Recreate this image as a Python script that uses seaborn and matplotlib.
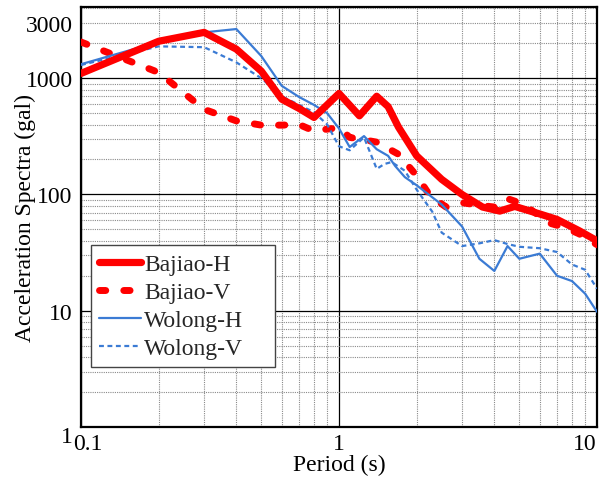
import matplotlib
matplotlib.use("Agg")
import matplotlib.pyplot as plt
import matplotlib.transforms as mtrans
from matplotlib.ticker import FixedLocator, LogLocator, FuncFormatter, NullFormatter
import seaborn as sns
import pandas as pd

# ---------------- data ----------------
bajiao_h_T = [0.1, 0.2, 0.3, 0.4, 0.5, 0.6, 0.7, 0.8, 1.0, 1.2, 1.4, 1.55, 1.7, 2.0,
              2.5, 3.0, 3.6, 4.2, 4.8, 6.0, 7.0, 8.5, 10.0]
bajiao_h_A = [1100, 2080, 2480, 1780, 1150, 660, 550, 460, 740, 475, 700, 570, 380, 215,
              135, 100, 78, 72, 79, 68, 61, 49, 40]

bajiao_v_T = [0.1, 0.2, 0.3, 0.4, 0.5, 0.6, 0.7, 0.8, 0.9, 1.0, 1.1, 1.25, 1.4, 1.7, 2.0,
              2.25, 2.6, 3.0, 3.6, 4.0, 4.5, 5.0, 5.5, 6.5, 7.5, 8.5, 10.0]
bajiao_v_A = [2050, 1120, 540, 430, 395, 395, 400, 352, 365, 375, 310, 295, 282, 222, 145,
              98, 78, 85, 80, 78, 92, 85, 75, 57, 52, 46, 37]

wolong_h_T = [0.1, 0.2, 0.3, 0.4, 0.5, 0.6, 0.7, 0.8, 0.9, 1.0, 1.1, 1.25, 1.4, 1.55, 1.65,
              1.8, 2.0, 2.5, 3.0, 3.5, 4.0, 4.5, 5.0, 6.0, 7.0, 8.0, 9.0, 10.0]
wolong_h_A = [1320, 2050, 2480, 2650, 1550, 860, 690, 590, 500, 370, 256, 318, 245, 215, 176,
              141, 120, 82, 53, 28, 22, 36, 28, 31, 20, 18, 14, 9.8]

wolong_v_T = [0.1, 0.2, 0.3, 0.4, 0.5, 0.6, 0.7, 0.8, 0.9, 1.0, 1.1, 1.25, 1.4, 1.5, 1.6,
              1.8, 2.0, 2.3, 2.5, 3.0, 3.5, 4.0, 4.5, 5.0, 6.0, 7.0, 8.0, 9.0, 10.0]
wolong_v_A = [1300, 1880, 1850, 1370, 1000, 700, 590, 510, 400, 260, 240, 310, 166, 183, 190,
              160, 110, 71, 47, 36, 38, 40.5, 37.5, 35.5, 34.5, 32, 25, 22.5, 15.5]

x_ticks = [0.1, 1, 10]
x_ticklabels = ["0.1", "1", "10"]
y_ticks = [1, 10, 100, 1000]
y_ticklabels = ["1", "10", "100", "1000"]
y_extra_label = 3000

# ---------------- styling ----------------
sns.set_theme(style="white")
plt.rcParams["font.family"] = ["Liberation Serif", "DejaVu Serif"]
FS = 17

fig = plt.figure(figsize=(6.05, 4.81), dpi=100)
W, H = 605, 481
L, R, T, B = 81, 597, 8, 428
ax = fig.add_axes([L / W, 1 - B / H, (R - L) / W, (B - T) / H])

red = "#ff0000"
blue = "#3b7bd4"

sns.lineplot(x=bajiao_v_T, y=bajiao_v_A, ax=ax, color=red, lw=5.0,
             linestyle=(0, (0.9, 2.6)), dash_capstyle="round", solid_capstyle="round",
             label="Bajiao-V", estimator=None, sort=False, zorder=3)
sns.lineplot(x=wolong_h_T, y=wolong_h_A, ax=ax, color=blue, lw=1.6,
             label="Wolong-H", estimator=None, sort=False, zorder=4)
sns.lineplot(x=wolong_v_T, y=wolong_v_A, ax=ax, color=blue, lw=1.6,
             linestyle=(0, (2.2, 1.6)), label="Wolong-V", estimator=None, sort=False, zorder=4)
sns.lineplot(x=bajiao_h_T, y=bajiao_h_A, ax=ax, color=red, lw=5.2,
             solid_capstyle="round", solid_joinstyle="round",
             label="Bajiao-H", estimator=None, sort=False, zorder=5)

ax.set_xscale("log")
ax.set_yscale("log")
ax.set_xlim(0.1, 10)
ax.set_ylim(1, 4100)

ax.xaxis.set_major_locator(FixedLocator(x_ticks))
ax.set_xticklabels(x_ticklabels)
ax.xaxis.set_minor_locator(LogLocator(base=10, subs=range(2, 10)))
ax.xaxis.set_minor_formatter(NullFormatter())

ax.yaxis.set_major_locator(FixedLocator(y_ticks))
ax.set_yticklabels(y_ticklabels)
ax.yaxis.set_minor_locator(LogLocator(base=10, subs=range(2, 10)))
ax.yaxis.set_minor_formatter(FuncFormatter(
    lambda v, p: f"{y_extra_label}" if abs(v - y_extra_label) < 1 else ""))

ax.grid(which="major", color="black", lw=0.9, ls="-")
ax.grid(which="minor", color="#8a8a8a", lw=0.8, ls=(0, (1, 1)))
ax.set_axisbelow(True)

ax.tick_params(axis="both", which="both", length=0, labelsize=FS, colors="black")
ax.tick_params(axis="x", which="both", pad=4)
ax.tick_params(axis="y", which="both", pad=6)

for sp in ax.spines.values():
    sp.set_color("black")
    sp.set_linewidth(1.6)

ax.set_xlabel("Period (s)", fontsize=FS, color="black")
ax.set_ylabel("Acceleration Spectra (gal)", fontsize=FS, color="black")
ax.xaxis.set_label_coords(0.5, -(455 - B) / (B - T))
ax.yaxis.set_label_coords((36 - L) / (R - L), 0.5)

# legend in the reference order
handles, labels = ax.get_legend_handles_labels()
order = ["Bajiao-H", "Bajiao-V", "Wolong-H", "Wolong-V"]
hmap = dict(zip(labels, handles))
x0 = (91 - L) / (R - L)
w = (275 - 91) / (R - L)
y1 = (B - 366) / (B - T)
h = (366 - 246) / (B - T)
leg = ax.legend([hmap[k] for k in order], order, loc="upper left",
                bbox_to_anchor=(x0, y1, w, h), mode="expand", borderaxespad=0,
                fontsize=FS, frameon=True, fancybox=False, framealpha=1,
                edgecolor="#444444", handlelength=1.75, handletextpad=0.15,
                labelspacing=0.28, borderpad=0.35)
leg.get_frame().set_linewidth(1.0)
leg.set_zorder(10)

# reference quirks: shifted end labels
fig.canvas.draw()
for lab in ax.get_xticklabels():
    t = lab.get_text()
    if t == "0.1":
        lab.set_transform(lab.get_transform() + mtrans.ScaledTranslation(7 / 100, 0, fig.dpi_scale_trans))
    elif t == "10":
        lab.set_transform(lab.get_transform() + mtrans.ScaledTranslation(-12 / 100, 0, fig.dpi_scale_trans))
for lab in ax.get_yticklabels():
    if lab.get_text() == "1":
        lab.set_transform(lab.get_transform() + mtrans.ScaledTranslation(0, -7 / 100, fig.dpi_scale_trans))

fig.savefig("out.png", dpi=100)
